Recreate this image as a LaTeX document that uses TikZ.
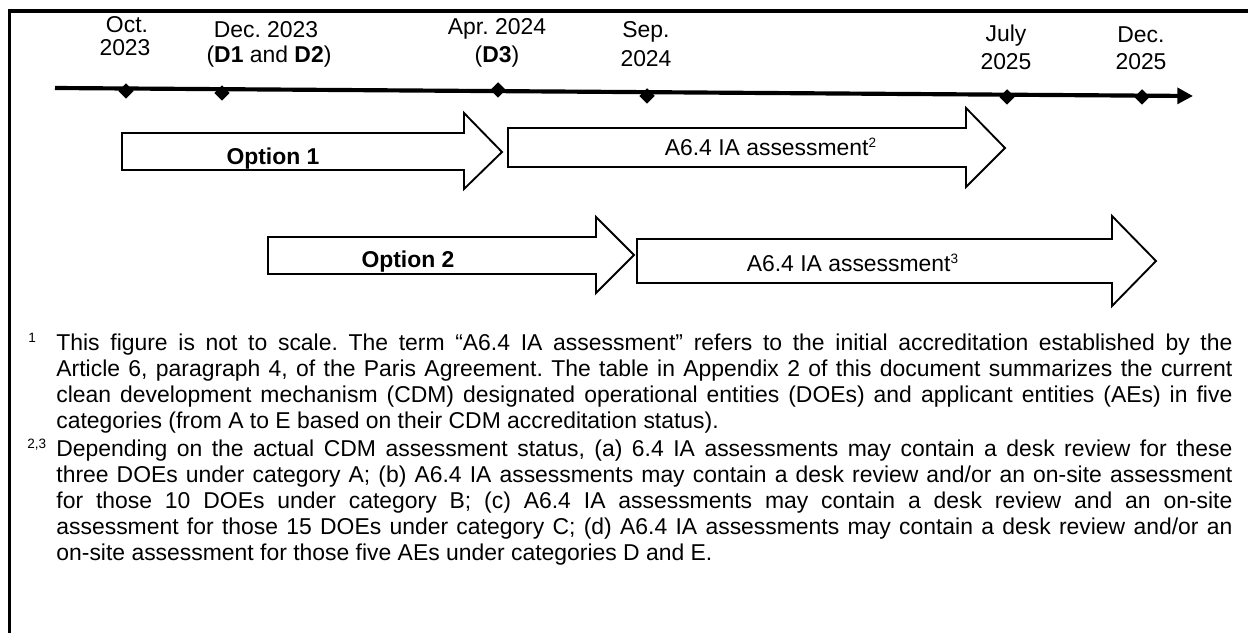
\documentclass[tikz,border=0pt]{standalone}
\usepackage{fontspec}
\setmainfont{Liberation Sans}
\usetikzlibrary{arrows.meta,shapes.geometric}
\frenchspacing
\begin{document}
\begin{tikzpicture}[x=0.48pt,y=-0.48pt,
  lbl/.style={font=\fontsize{11}{12.5}\selectfont\frenchspacing, inner sep=0pt, anchor=base},
  blockarrow/.style={draw=black, line width=0.9pt, fill=white, line join=miter},
  fntext/.style={font=\fontsize{11}{12.5}\selectfont\frenchspacing, inner sep=0pt, anchor=north west, text width=564.5pt, align=justify},
  fnmark/.style={font=\fontsize{6.5}{7}\selectfont, inner sep=0pt, anchor=base west},
  tick/.style={shape=diamond, fill=black, draw=none, inner sep=0pt, minimum size=7.6pt},
  timeline/.style={line width=2pt, -{Triangle[length=7.5pt,width=7.5pt]}},
  frame/.style={line width=1.7pt}
]
\useasboundingbox (0,0) rectangle (1248,633);
% frame (top and left edges)
\draw[frame] (9.5,640) -- (9.5,11) -- (1260,11);

% timeline
\coordinate (t0) at (55,88);
\coordinate (t1) at (1193,96);
\draw[timeline] (t0) -- (t1);
\node[tick] (d1) at (126,91) {};
\node[tick] (d2) at (222,93) {};
\node[tick] (d3) at (498,90) {};
\node[tick] (d4) at (647,96) {};
\node[tick] (d5) at (1007,97) {};
\node[tick] (d6) at (1142,97) {};

% date labels
\node[lbl] (oct1) at (127,33) {Oct.};
\node[lbl] (oct2) at (125,56) {2023};
\node[lbl] (dec1) at (266,38) {Dec. 2023};
\node[lbl] (dec2) at (269,63) {(\textbf{D1} and \textbf{D2})};
\node[lbl] (apr1) at (497,35) {Apr. 2024};
\node[lbl] (apr2) at (497,63) {(\textbf{D3})};
\node[lbl] (sep1) at (646,38) {Sep.};
\node[lbl] (sep2) at (646,67) {2024};
\node[lbl] (jul1) at (1006,42) {July};
\node[lbl] (jul2) at (1006,70) {2025};
\node[lbl] (dcb1) at (1141,43) {Dec.};
\node[lbl] (dcb2) at (1141,70) {2025};

% option 1 row
\draw[blockarrow] (122,133) -- (464,133) -- (464,113) -- (502,152) -- (464,189) -- (464,170) -- (122,170) -- cycle;
\node[lbl] (opt1) at (273,165) {\bfseries Option 1};
\draw[blockarrow] (508,128) -- (966,128) -- (966,108) -- (1005,148) -- (966,187) -- (966,167) -- (508,167) -- cycle;
\node[lbl] (ia2) at (771,156) {A6.4 IA assessment\textsuperscript{\fontsize{6.5}{7}\selectfont 2}};

% option 2 row
\draw[blockarrow] (268,237) -- (596,237) -- (596,217) -- (634,255) -- (596,293) -- (596,274) -- (268,274) -- cycle;
\node[lbl] (opt2) at (408,268) {\bfseries Option 2};
\draw[blockarrow] (637,239) -- (1112,239) -- (1112,216) -- (1156,261) -- (1112,306) -- (1112,283) -- (637,283) -- cycle;
\node[lbl] (ia3) at (853,272) {A6.4 IA assessment\textsuperscript{\fontsize{6.5}{7}\selectfont 3}};

% footnotes
\node[fnmark] (fm1) at (28,343) {1};
\node[fntext] (fn1) at (56,331.8) {\parindent0pt\hyphenpenalty10000\tolerance10000\strut This figure is not to scale. The term “A6.4 IA assessment” refers to the initial accreditation established by the\linebreak
Article 6, paragraph 4, of the Paris Agreement. The table in Appendix 2 of this document summarizes the current\linebreak
clean development mechanism (CDM) designated operational entities (DOEs) and applicant entities (AEs) in five\linebreak
categories (from A to E based on their CDM accreditation status).};
\node[fnmark] (fm2) at (27,449) {2,3};
\node[fntext] (fn2) at (56,438) {\parindent0pt\hyphenpenalty10000\tolerance10000\strut Depending on the actual CDM assessment status, (a) 6.4 IA assessments may contain a desk review for these\linebreak
three DOEs under category A; (b) A6.4 IA assessments may contain a desk review and/or an on-site assessment\linebreak
for those 10 DOEs under category B; (c) A6.4 IA assessments may contain a desk review and an on-site\linebreak
assessment for those 15 DOEs under category C; (d) A6.4 IA assessments may contain a desk review and/or an\linebreak
on-site assessment for those five AEs under categories D and E.};
\end{tikzpicture}
\end{document}
